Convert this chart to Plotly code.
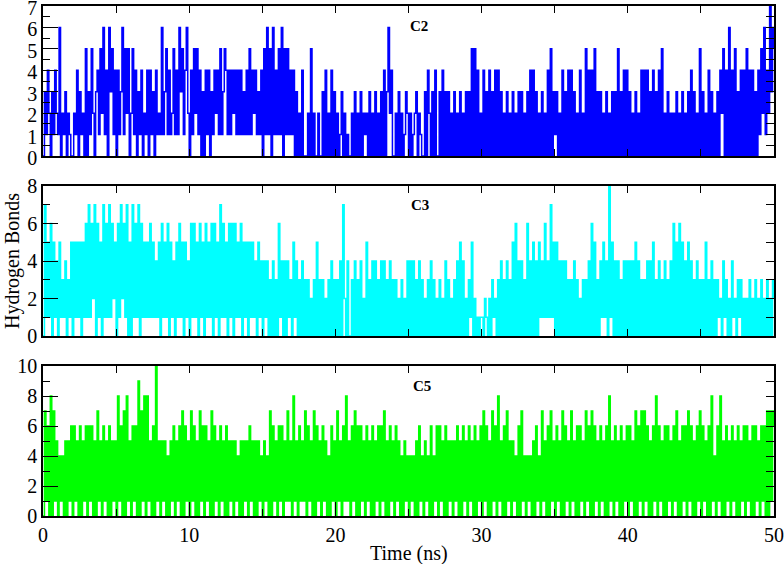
import plotly.graph_objects as go

# ---- data: hydrogen-bond counts, one string of 10 readings per ns (A = 10) ----
TIME_STEP_NS = 0.1
C2_BLOCKS = [
    "0314203142", "1602130210", "0214031205", "0315203415", "2614063514",
    "0413615250", "2514031402", "1404130412", "1613514125", "1416351462",
    "0415251403", "0414031424", "1513541414", "2414141314", "1514241314",
    "0516150614", "1516051514", "1403020400", "0205020020", "0304020403",
    "0201302010", "0203020302", "1203020302", "0304036240", "0203020132",
    "0201230210", "0304203040", "0304030302", "0302030203", "0305050402",
    "0403040304", "0403020302", "0302030302", "0304040302", "0302040503",
    "1302040304", "0403020402", "0504040503", "0302030203", "0305030404",
    "0302030204", "0404030403", "0405020302", "0203020302", "0304030205",
    "0302040302", "0304250406", "0405030404", "0504040304", "1526142736",
    "5",
]
C3_BLOCKS = [
    "0715160514", "0513140315", "0515150516", "1716270615", "0716171625",
    "0617261705", "0716170615", "1516151415", "0615160514", "0516150514",
    "0616150615", "0615160615", "0716150616", "0615160515", "0515140514",
    "0414030403", "0614040413", "0514030403", "0302030503", "0302030403",
    "0304072040", "0304030402", "0503040403", "0404030403", "0302030204",
    "0404030403", "0203040302", "0302040302", "0304050402", "0315020101",
    "1021020312", "0304030403", "0506040403", "0604050405", "1416141715",
    "0504040403", "0304030203", "0304060503", "0415140815", "0404030404",
    "0404050403", "0304040503", "0403040304", "0605060504", "0504030403",
    "0305030403", "0312041302", "0412031302", "0203020302", "0302030203",
    "2",
]
C5_BLOCKS = [
    "0716080715", "0414050516", "0615060516", "0616050715", "0615060515",
    "0816070815", "0616090718", "0815060A15", "0515040516", "0516070615",
    "0716050716", "0615070615", "0615060515", "0514050515", "0615050514",
    "0514070615", "0616051715", "0815061517", "0615070615", "0615040615",
    "0715061815", "0617060615", "0615060516", "0617050615", "0615040514",
    "0414050614", "0514060416", "0615060515", "0516050615", "0615060516",
    "0716050716", "0815060715", "0514060714", "0414050614", "0715060715",
    "0615070615", "0715060615", "0716070615", "0615060815", "0615060516",
    "0615070617", "0716050618", "0615060615", "0617050616", "0716050617",
    "0615060814", "0618050615", "0615060516", "0615060615", "0616070717",
    "6",
]
PANEL_TITLES = ["C2", "C3", "C5"]
PANEL_COLORS = ["#0000ff", "#00ffff", "#00ff00"]
Y_RANGES = [[0, 7], [0, 8], [0, 10]]
Y_DTICK = [1, 2, 2]
Y_MINOR = [0.5, 1, 1]
X_TICKS = [0, 10, 20, 30, 40, 50]


def parse(blocks):
    s = "".join(blocks)
    return [10 if ch == "A" else int(ch) for ch in s]


series = [parse(C2_BLOCKS), parse(C3_BLOCKS), parse(C5_BLOCKS)]

# ---- layout geometry (pixels) ----
W, H = 784, 564
L, R, T, B = 43, 774, 6, 516
PANEL_PX = [(6, 156), (186, 336), (366, 516)]
PH = B - T
FONT = "Liberation Serif, Times New Roman, serif"


def py(p):
    return (B - p) / PH


def px(p):
    return (p - L) / (R - L)


fig = go.Figure()
layout = dict(
    width=W, height=H,
    margin=dict(l=L, r=W - R, t=T, b=H - B, pad=0, autoexpand=False),
    paper_bgcolor="white", plot_bgcolor="white",
    showlegend=False,
    font=dict(family=FONT, size=20, color="black"),
)

for k in range(3):
    i = k + 1
    top_i = k + 4
    vals = series[k]
    t = [j * TIME_STEP_NS for j in range(len(vals))]
    fig.add_trace(go.Scatter(
        x=t, y=vals, mode="lines",
        line=dict(color=PANEL_COLORS[k], width=1.5, shape="hv"),
        xaxis=f"x{i}", yaxis=f"y{i}", hoverinfo="skip",
    ))
    top, bot = PANEL_PX[k]
    dom = [py(bot), py(top)]
    last = (k == 2)
    common_x = dict(range=[0, 50], showgrid=False, zeroline=False, showline=True,
                    linecolor="black", linewidth=1.5, ticks="inside", tickcolor="black",
                    tickwidth=1, tickvals=X_TICKS, automargin=False,
                    ticklabeloverflow="allow")
    layout[f"xaxis{i}"] = dict(
        common_x, anchor=f"y{i}", domain=[0, 1],
        ticklen=14 if last else 7,
        showticklabels=last,
        tickfont=dict(family=FONT, size=20),
        minor=dict(dtick=5, tick0=0, ticklen=7, ticks="inside", tickcolor="black", showgrid=False),
    )
    layout[f"xaxis{top_i}"] = dict(
        common_x, overlaying=f"x{i}", anchor=f"y{i}", side="top",
        ticklen=7, showticklabels=False,
        minor=dict(dtick=5, tick0=0, ticklen=7, ticks="inside", tickcolor="black", showgrid=False),
    )
    common_y = dict(range=Y_RANGES[k], showgrid=False, zeroline=False, showline=True,
                    linecolor="black", linewidth=1.5, ticks="inside", tickcolor="black",
                    tickwidth=1, dtick=Y_DTICK[k], tick0=0, automargin=False,
                    ticklabeloverflow="allow")
    layout[f"yaxis{i}"] = dict(
        common_y, anchor=f"x{i}", domain=dom, ticklen=15,
        tickfont=dict(family=FONT, size=20),
        ticklabelshift=2 if k == 0 else 0,
        minor=dict(dtick=Y_MINOR[k], tick0=0, ticklen=7, ticks="inside", tickcolor="black", showgrid=False),
    )
    layout[f"yaxis{top_i}"] = dict(
        common_y, overlaying=f"y{i}", anchor=f"x{i}", side="right", ticklen=8,
        showticklabels=False,
        minor=dict(dtick=Y_MINOR[k], tick0=0, ticklen=8, ticks="inside", tickcolor="black", showgrid=False),
    )
    fig.add_trace(go.Scatter(x=[None], y=[None], xaxis=f"x{top_i}", yaxis=f"y{top_i}",
                             mode="lines", hoverinfo="skip"))

fig.update_layout(**layout)

annotations = []
title_pos = [(418.7, 25.7), (420.3, 205.0), (421.7, 386.0)]
for k in range(3):
    x0, y0 = title_pos[k]
    annotations.append(dict(text=f"<b>{PANEL_TITLES[k]}</b>", xref="paper", yref="paper",
                            x=px(x0), y=py(y0), xanchor="center", yanchor="middle",
                            showarrow=False, font=dict(family=FONT, size=15, color="black")))
annotations.append(dict(text="Time (ns)", xref="paper", yref="paper", x=px(408.5), y=py(553),
                        xanchor="center", yanchor="middle", showarrow=False,
                        font=dict(family=FONT, size=20, color="black")))
annotations.append(dict(text="Hydrogen Bonds", xref="paper", yref="paper", x=px(12), y=py(261),
                        xanchor="center", yanchor="middle", textangle=-90, showarrow=False,
                        font=dict(family=FONT, size=20, color="black")))
fig.update_layout(annotations=annotations)

fig.write_html("out.html", config={"displayModeBar": False},
               post_script="document.body.style.margin='0';")
